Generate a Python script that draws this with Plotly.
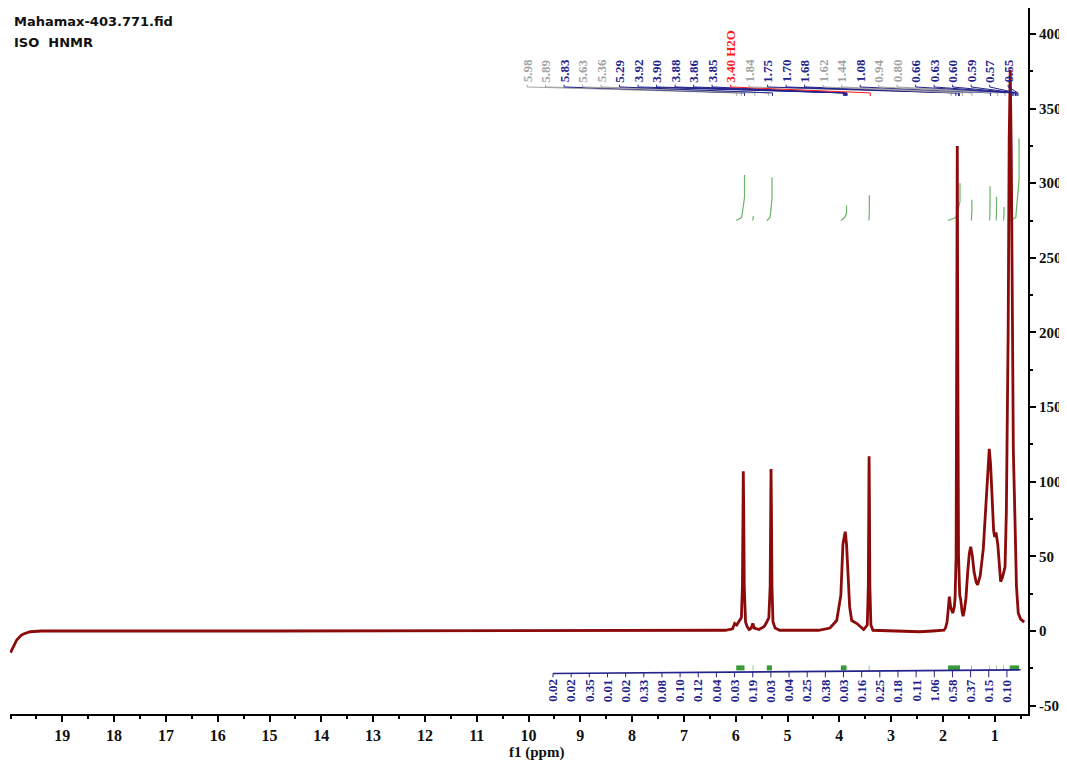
import numpy as np
import plotly.graph_objects as go

# ---------------- data ----------------
ppm = [20.00, 19.93, 19.88, 19.80, 19.75, 19.62, 19.40, 15.00, 10.00, 6.20,
       6.06, 6.02, 5.98, 5.93, 5.89, 5.870, 5.860, 5.853, 5.845, 5.835,
       5.81, 5.78, 5.74, 5.70, 5.67, 5.64, 5.55, 5.45, 5.40, 5.36,
       5.335, 5.325, 5.318, 5.310, 5.300, 5.28, 5.24, 5.15, 4.40, 4.18,
       4.05, 3.97, 3.93, 3.90, 3.885, 3.86, 3.84, 3.80, 3.76, 3.66,
       3.53, 3.46, 3.440, 3.432, 3.425, 3.418, 3.410, 3.39, 3.35, 3.00,
       2.60, 2.45, 2.20, 1.98, 1.95, 1.92, 1.895, 1.876, 1.85, 1.81,
       1.78, 1.765, 1.745, 1.732, 1.722, 1.712, 1.698, 1.675, 1.656, 1.63,
       1.61, 1.585, 1.555, 1.52, 1.49, 1.463, 1.43, 1.40, 1.36, 1.33,
       1.28, 1.22, 1.17, 1.13, 1.105, 1.08, 1.05, 1.02, 1.00, 0.975,
       0.94, 0.91, 0.885, 0.85, 0.83, 0.80, 0.775, 0.757, 0.74, 0.72,
       0.70, 0.68, 0.66, 0.64, 0.61, 0.58, 0.545, 0.50, 0.43]
intensity = [-14.5, -9, -6, -3, -2, -0.5, 0, 0, 0, 0.5,
             1.5, 5, 4, 7, 9, 30, 80, 107, 80, 30,
             6, 3, 1, 2, 5, 2, 1, 3, 6, 9,
             30, 80, 108.5, 80, 30, 6, 2, 0.5, 0.5, 2,
             7, 24, 58, 64, 66.5, 58, 45, 16, 7, 5,
             1, 4, 30, 85, 117, 85, 30, 4, 0.5, 0,
             -0.5, -0.5, 0, 0.5, 2, 6, 15, 23, 16, 12,
             16, 22, 50, 180, 325, 180, 50, 24, 21, 13,
             10, 14, 22, 40, 52, 56.5, 50, 40, 33, 31,
             37, 55, 85, 112, 122, 112, 85, 67, 63, 66,
             58, 42, 33, 36, 39, 43, 80, 132, 200, 330,
             376, 320, 210, 121, 77, 30, 12, 8, 6]

peak_labels = ["5.98", "5.89", "5.83", "5.63", "5.36", "5.29", "3.92", "3.90", "3.88",
               "3.86", "3.85", "3.40 H2O", "1.84", "1.75", "1.70", "1.68", "1.62", "1.44",
               "1.08", "0.94", "0.80", "0.66", "0.63", "0.60", "0.59", "0.57", "0.55"]
peak_kind = ["g", "g", "b", "g", "g", "b", "b", "b", "b", "b", "b", "r", "g", "b", "b",
             "b", "g", "g", "b", "g", "g", "b", "b", "b", "b", "b", "b"]

integral_labels = ["0.02", "0.02", "0.35", "0.01", "0.02", "0.33", "0.08", "0.10", "0.12",
                   "0.04", "0.03", "0.19", "0.03", "0.04", "0.25", "0.38", "0.03", "0.16",
                   "0.25", "0.18", "0.11", "1.06", "0.58", "0.37", "0.15", "0.10"]

# integral regions: left ppm, right ppm, top of integral curve
int_left = [5.99, 5.67, 5.40, 3.97, 3.43, 1.90, 1.45, 1.10, 0.975, 0.83, 0.71]
int_right = [5.83, 5.66, 5.30, 3.86, 3.42, 1.67, 1.44, 1.09, 0.965, 0.82, 0.53]
int_top = [305.5, 278, 304, 285, 292, 300, 289, 298, 291, 284, 330]

x_ticks = list(range(1, 20))
y_ticks = list(range(-50, 401, 50))

# ---------------- styles ----------------
RED = "#8b0a0a"
BLUE = "#23238c"
GRAY = "#a3a3a3"
HRED = "#ff1a1a"
GREEN = "#3a9a3a"
kind_color = {"g": GRAY, "b": BLUE, "r": HRED}
SERIF = "Liberation Serif"

fig = go.Figure()

# integral curves (top) and integral markers (bottom)
int_base = 275
gx, gy, bx, by = [], [], [], []
for l, r, t in zip(int_left, int_right, int_top):
    gx += [l, r + 0.35 * (l - r), r, r, None]
    gy += [int_base, int_base + 2, int_base + 0.5 * (t - int_base), t, None]
    bx += [l, r, None]
    by += [-24.7, -24.7, None]
fig.add_trace(go.Scatter(x=gx, y=gy, mode="lines", line=dict(color=GREEN, width=1.2),
                         opacity=0.75, hoverinfo="skip"))
fig.add_trace(go.Scatter(x=bx, y=by, mode="lines", line=dict(color=GREEN, width=5),
                         hoverinfo="skip"))

# spectrum
fig.add_trace(go.Scatter(x=ppm, y=intensity, mode="lines",
                         line=dict(color=RED, width=2.8), hoverinfo="skip"))

# top peak labels and leaders
n_top = len(peak_labels)
top_x = np.linspace(10.028, 0.74, n_top)
for lab, kind, lx in zip(peak_labels, peak_kind, top_x):
    col = kind_color[kind]
    px = float(lab.split()[0])
    fig.add_trace(go.Scatter(x=[lx, lx, px, px], y=[366.0, 364.5, 360.5, 358.5],
                             mode="lines", line=dict(color=col, width=1),
                             hoverinfo="skip"))
    fig.add_annotation(x=lx, y=366.0, xref="x", yref="y", text="<b>%s</b>" % lab,
                       textangle=-90, showarrow=False, xanchor="center", yanchor="bottom",
                       font=dict(family=SERIF, size=13, color=col))

# bottom integral labels and leader line
n_bot = len(integral_labels)
bot_x = np.linspace(9.527, 0.764, n_bot)
fig.add_trace(go.Scatter(x=[bot_x[0], 0.50], y=[-28.5, -26.0], mode="lines",
                         line=dict(color=BLUE, width=1.6), hoverinfo="skip"))
tx, ty = [], []
for i, lx in enumerate(bot_x):
    yl = -28.5 + (9.527 - lx) / (9.527 - 0.50) * 2.5
    tx += [lx, lx, None]
    ty += [yl, -31.0, None]
fig.add_trace(go.Scatter(x=tx, y=ty, mode="lines", line=dict(color=BLUE, width=1),
                         hoverinfo="skip"))
for lab, lx in zip(integral_labels, bot_x):
    fig.add_annotation(x=lx, y=-31.0, xref="x", yref="y", text="<b>%s</b>" % lab,
                       textangle=-90, showarrow=False, xanchor="center", yanchor="top",
                       font=dict(family=SERIF, size=13, color=BLUE))

# titles
fig.add_annotation(x=0.0015, y=0.9943, xref="paper", yref="paper", xanchor="left",
                   yanchor="top", showarrow=False, text="<b>Mahamax-403.771.fid</b>",
                   font=dict(family="DejaVu Sans", size=13, color="#111111"))
fig.add_annotation(x=0.0015, y=0.9646, xref="paper", yref="paper", xanchor="left",
                   yanchor="top", showarrow=False, text="<b>ISO  HNMR</b>",
                   font=dict(family="DejaVu Sans", size=13, color="#111111"))
fig.add_annotation(x=0.5174, y=-0.054, xref="paper", yref="paper", xanchor="center",
                   yanchor="middle", showarrow=False, text="<b>f1 (ppm)</b>",
                   font=dict(family=SERIF, size=15, color="#111111"))

# the page body has an 8px margin, so the figure is 8px smaller on each axis
fig.update_layout(
    width=1059, height=757,
    margin=dict(l=2, r=39, t=0, b=51),
    plot_bgcolor="white", paper_bgcolor="white",
    showlegend=False,
    xaxis=dict(range=[20.01, 0.357], showgrid=False, zeroline=False,
               showline=True, linecolor="black", linewidth=2,
               ticks="outside", ticklen=6, tickwidth=2, tickcolor="black",
               tickvals=x_ticks, ticktext=[str(v) for v in x_ticks],
               tickfont=dict(family=SERIF, size=16, color="#111111", weight="bold"),
               minor=dict(dtick=0.5, tick0=0, ticks="outside", ticklen=3,
                          tickwidth=2, tickcolor="black"),
               fixedrange=True),
    yaxis=dict(range=[-55.6, 417.4], side="right", showgrid=False, zeroline=False,
               showline=True, linecolor="black", linewidth=2,
               ticks="outside", ticklen=6, tickwidth=2, tickcolor="black",
               tickvals=y_ticks, ticktext=[str(v) for v in y_ticks],
               tickfont=dict(family=SERIF, size=15, color="#111111", weight="bold"),
               minor=dict(dtick=25, tick0=0, ticks="outside", ticklen=3,
                          tickwidth=2, tickcolor="black"),
               fixedrange=True),
)

fig.write_html("out.html", config={"displayModeBar": False})
